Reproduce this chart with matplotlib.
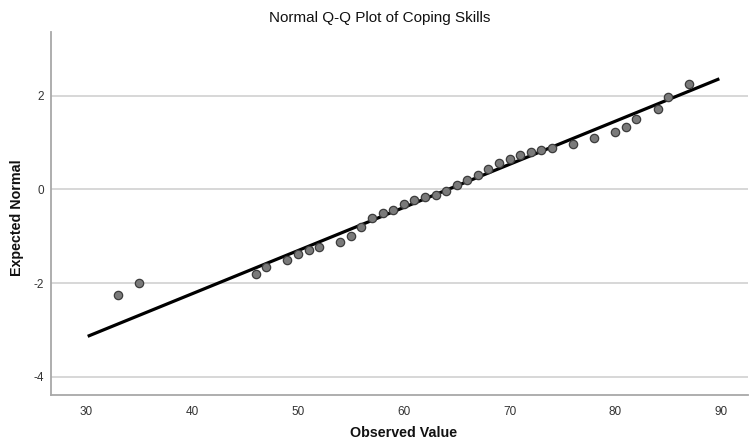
import matplotlib
matplotlib.use("Agg")
import matplotlib.pyplot as plt

plt.rcParams['font.family'] = ['Liberation Sans', 'DejaVu Sans']
plt.rcParams['axes.unicode_minus'] = False

observados = [33, 35, 46, 47, 49, 50, 51, 52, 54, 55, 56, 57, 58, 59, 60, 61, 62, 63,
              64, 65, 66, 67, 68, 69, 70, 71, 72, 73, 74, 76, 78, 80, 81, 82, 84, 85, 87]
esperados = [-2.25, -1.99, -1.80, -1.66, -1.50, -1.37, -1.30, -1.23, -1.13, -1.00,
             -0.80, -0.61, -0.51, -0.44, -0.31, -0.23, -0.17, -0.13, -0.04, 0.09,
             0.20, 0.31, 0.43, 0.56, 0.65, 0.74, 0.80, 0.84, 0.89, 0.97, 1.09,
             1.22, 1.33, 1.50, 1.71, 1.97, 2.24]

# linea de referencia
linea_x = [30.25, 89.7]
linea_y = [-3.125, 2.348]

x_ticks = [30, 40, 50, 60, 70, 80, 90]
y_ticks = [-4, -2, 0, 2]

fig = plt.figure(figsize=(7.49, 4.40), dpi=100)
ax = fig.add_axes([51 / 749, 1 - 394.5 / 440, 697 / 749, 362.5 / 440])

for yt in y_ticks:
    ax.axhline(yt, color='#d4d4d4', linewidth=1.3, zorder=1)

ax.plot(linea_x, linea_y, color='black', linewidth=2.3, zorder=2)
ax.scatter(observados, esperados, s=36, color='#7a7a7a', edgecolors='#3c3c3c',
           linewidths=0.9, zorder=3)

ax.set_xlim(26.64, 92.55)
ax.set_ylim(-4.38, 3.36)
ax.set_xticks(x_ticks)
ax.set_yticks(y_ticks)
ax.tick_params(length=0, labelsize=8.5, colors='#333333', pad=8)
ax.tick_params(axis='y', pad=5)

for s in ['top', 'right']:
    ax.spines[s].set_visible(False)
for s in ['left', 'bottom']:
    ax.spines[s].set_color('#a8a8a8')
    ax.spines[s].set_linewidth(1.3)

fig.text(380 / 749, 1 - 18 / 440, "Normal Q-Q Plot of Coping Skills", ha='center', va='center',
         fontsize=11, color='#111111')
fig.text(404 / 749, 1 - 433 / 440, "Observed Value", ha='center', va='center',
         fontsize=10.3, fontweight='bold', color='#111111')
fig.text(17 / 749, 1 - 218 / 440, "Expected Normal", ha='center', va='center', rotation=90,
         fontsize=10.3, fontweight='bold', color='#111111')

fig.savefig("out.png", dpi=100)
